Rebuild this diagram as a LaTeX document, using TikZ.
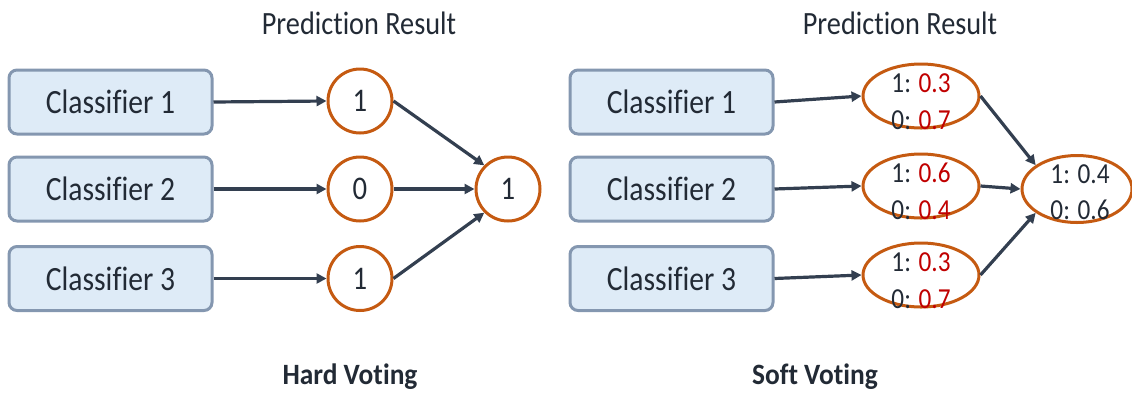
\documentclass[tikz,border=0pt]{standalone}
\usepackage{fontspec}
\setmainfont[FakeStretch=0.87,Ligatures=NoCommon]{Carlito}
\newfontfamily\capfont[FakeStretch=0.93,Ligatures=NoCommon]{Carlito}
\usetikzlibrary{arrows.meta,shapes.geometric}
\definecolor{boxfill}{HTML}{DEEBF7}
\definecolor{boxdraw}{HTML}{8497B0}
\definecolor{orng}{HTML}{C55A11}
\definecolor{arrc}{HTML}{333F50}
\definecolor{txt}{HTML}{222A35}
\definecolor{rd}{HTML}{C00000}
\tikzset{
  clsbox/.style={draw=boxdraw,fill=boxfill,line width=3pt,rounded corners=8pt,minimum width=203pt,minimum height=64pt,inner sep=0pt,text=txt,font=\fontsize{34}{38}\selectfont},
  vote/.style={circle,draw=orng,line width=3pt,minimum size=64pt,inner sep=0pt,text=txt,font=\fontsize{33}{36}\selectfont},
  prob/.style={ellipse,draw=orng,line width=3pt,minimum width=116pt,minimum height=64pt,inner sep=0pt},
  fprob/.style={prob,minimum width=110pt,minimum height=67pt},
  probtxt/.style={inner sep=0pt,text=txt,align=center,font=\fontsize{29}{37}\selectfont},
  arr/.style={draw=arrc,line width=3.2pt,-{Triangle[length=10pt,width=10pt]}},
  ttl/.style={text=txt,anchor=base,font=\fontsize{32.5}{36}\selectfont},
  captxt/.style={text=txt,anchor=base,font=\capfont\bfseries\fontsize{29.5}{32}\selectfont}
}
\begin{document}
\begin{tikzpicture}[x=1pt,y=-1pt]
\useasboundingbox (0,0) rectangle (1132,392);
% Hard voting
\node[ttl] (t1) at (359,34) {Prediction Result};
\node[clsbox] (a1) at (110.5,102) {Classifier 1};
\node[clsbox] (a2) at (110.5,189) {Classifier 2};
\node[clsbox] (a3) at (110.5,278.5) {Classifier 3};
\node[vote] (c1) at (360,101) {1};
\node[vote] (c2) at (360,189) {0};
\node[vote] (c3) at (360,278.5) {1};
\node[vote] (f1) at (508,189) {1};
\draw[arr] (a1.east) -- (c1.west);
\draw[arr] (a2.east) -- (c2.west);
\draw[arr] (a3.east) -- (c3.west);
\draw[arr] (c1.east) -- (f1.135);
\draw[arr] (c2.east) -- (f1.west);
\draw[arr] (c3.east) -- (f1.225);
\node[captxt] (h) at (350,384) {Hard Voting};
% Soft voting
\node[ttl] (t2) at (900,34) {Prediction Result};
\node[clsbox] (b1) at (671.5,102) {Classifier 1};
\node[clsbox] (b2) at (671.5,189) {Classifier 2};
\node[clsbox] (b3) at (671.5,278.5) {Classifier 3};
\node[prob] (e1) at (921,96) {};
\node[prob] (e2) at (921,186) {};
\node[prob] (e3) at (921,275) {};
\node[fprob] (f2) at (1077,189) {};
\node[probtxt] (e1t) at (921,101.5) {1: \textcolor{rd}{0.3}\\0: \textcolor{rd}{0.7}};
\node[probtxt] (e2t) at (921,191.5) {1: \textcolor{rd}{0.6}\\0: \textcolor{rd}{0.4}};
\node[probtxt] (e3t) at (921,280.5) {1: \textcolor{rd}{0.3}\\0: \textcolor{rd}{0.7}};
\node[probtxt,font=\fontsize{29}{36}\selectfont] (f2t) at (1080,192) {1: 0.4\\0: 0.6};
\draw[arr] (b1.east) -- (e1.west);
\draw[arr] (b2.east) -- (e2.west);
\draw[arr] (b3.east) -- (e3.west);
\draw[arr] (e1.east) -- (f2.150);
\draw[arr] (e2.east) -- (f2.west);
\draw[arr] (e3.east) -- (f2.210);
\node[captxt] (s) at (815,384) {Soft Voting};
\end{tikzpicture}
\end{document}
